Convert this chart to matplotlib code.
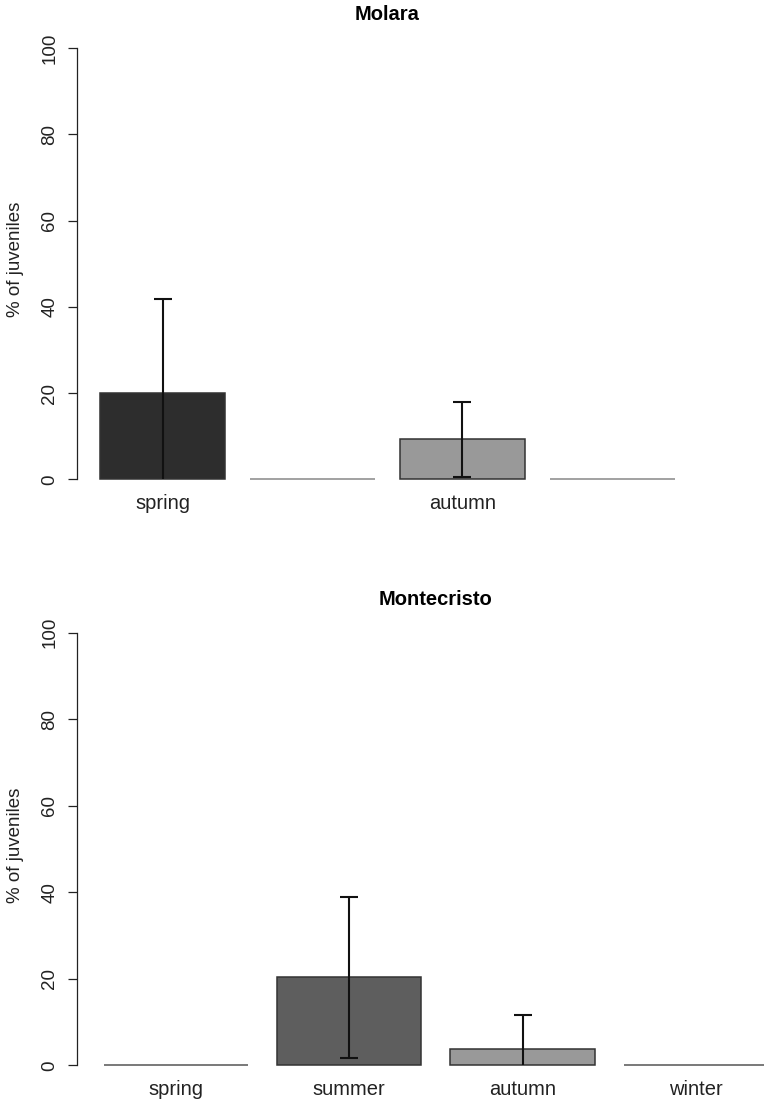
import numpy as np
import matplotlib
matplotlib.use("Agg")
import matplotlib.pyplot as plt

plt.rcParams['font.family'] = ['Liberation Sans', 'DejaVu Sans']

seasons = ["spring", "summer", "autumn", "winter"]
season_colors = ["#2d2d2d", "#5e5e5e", "#999999", "#cccccc"]

# percentage of juveniles per season (mean and standard error)
molara_mean = [20.0, 0.0, 9.3, 0.0]
molara_se = [21.7, np.nan, 8.7, np.nan]
molara_labels = ["spring", "", "autumn", ""]

montecristo_mean = [0.0, 20.3, 3.7, 0.0]
montecristo_se = [np.nan, 18.5, 7.9, np.nan]
montecristo_labels = seasons

yticks = [0, 20, 40, 60, 80, 100]

W, H = 764, 1106
fig = plt.figure(figsize=(W / 100, H / 100), dpi=100)


def season_panel(rect, title, means, se, labels, zero_edge):
    ax = fig.add_axes(rect)
    x = 0.7 + 1.2 * np.arange(len(means))
    edges = [zero_edge if m == 0 else "#333333" for m in means]
    ax.bar(x, means, width=1.0, color=season_colors, edgecolor=edges, linewidth=1.1)

    # error bars are clipped at zero, dropping the lower cap
    for xi, m, s in zip(x, means, se):
        if np.isnan(s):
            continue
        lo, hi = m - s, m + s
        ax.vlines(xi, max(lo, 0), hi, color="#111111", lw=1.5)
        caps = [hi] + ([lo] if lo >= 0 else [])
        ax.plot([xi] * len(caps), caps, ls="none", marker="_", ms=13, mew=1.5, color="#111111")

    ax.set_xlim(0.016, 4.984)
    ax.set_ylim(-4, 104)
    for side in ["top", "right", "bottom"]:
        ax.spines[side].set_visible(False)
    ax.spines["left"].set_bounds(0, 100)
    ax.spines["left"].set_linewidth(0.9)
    ax.spines["left"].set_color("#222222")

    ax.set_yticks(yticks)
    ax.tick_params(axis="y", length=6.5, width=0.9, color="#222222", pad=7,
                   labelsize=13.5, labelrotation=90, labelcolor="#222222")
    for t in ax.get_yticklabels():
        t.set_va("center")

    ax.set_xticks(x, labels)
    ax.tick_params(axis="x", length=0, pad=8.9, labelsize=14.5, labelcolor="#222222")
    for t in ax.get_xticklabels():
        t.set_va("baseline")

    ax.annotate("% of juveniles", xy=(0, 0.5), xycoords="axes fraction",
                xytext=(-61, 4), textcoords="offset pixels", rotation=90,
                ha="center", va="center", fontsize=13.5, color="#222222")
    ax.annotate(title, xy=(0.5, 1), xycoords="axes fraction",
                xytext=(0, 16), textcoords="offset pixels",
                ha="center", va="center", fontsize=14.5, fontweight="bold")
    return ax


season_panel([77 / W, 1 - 496.6 / H, 621 / W, 465.8 / H],
             "Molara", molara_mean, molara_se, molara_labels, "#888888")
season_panel([77 / W, 1 - 1082.6 / H, 717.9 / W, 467.2 / H],
             "Montecristo", montecristo_mean, montecristo_se, montecristo_labels, "#555555")

fig.savefig("out.png", dpi=100)
